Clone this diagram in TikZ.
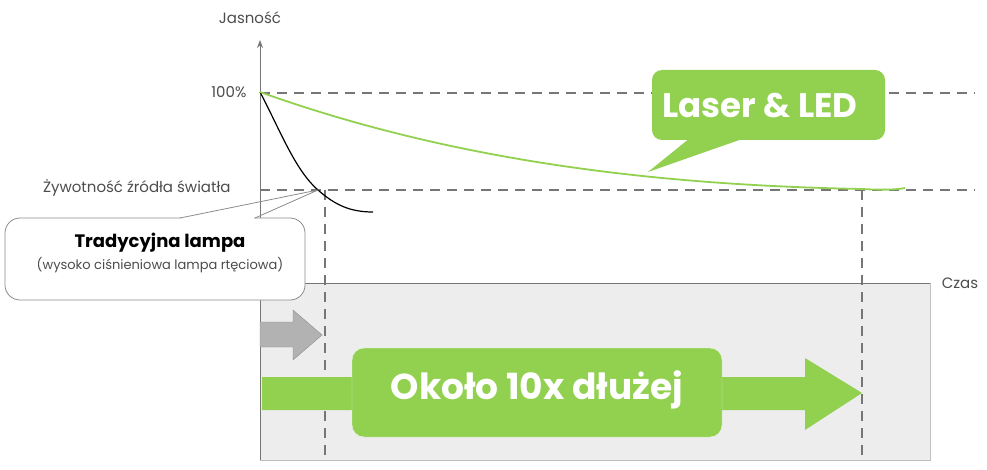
\documentclass[tikz,border=0pt]{standalone}
\usepackage{fontspec}
\setmainfont{Poppins}
\usetikzlibrary{arrows.meta}
\definecolor{grn}{HTML}{92D050}
\definecolor{dgr}{HTML}{767676}
\begin{document}
\begin{tikzpicture}[x=1pt,y=-1pt,
  dashline/.style={dgr,line width=2.6pt,dash pattern=on 10pt off 7pt},
  lbl/.style={font=\fontsize{15}{17}\selectfont,text=black!70}]
\useasboundingbox (0,0) rectangle (987,470);
\fill[black!7,draw=black!25] (260,283) rectangle (930,460);
\draw[dgr,line width=1pt] (258,283) -- (930,283);
\draw[dgr,line width=1pt,-{Stealth[length=8pt]}] (260,460) -- (260,40);
\draw[dashline] (260,93) -- (975,93);
\draw[dashline] (260,190) -- (975,190);
\draw[dashline] (325,190) -- (325,460);
\draw[dashline] (862,190) -- (862,460);
\node[lbl,anchor=east] (p100) at (250,92) {100\%};
\node[lbl] (jas) at (250,18) {Jasność};
\node[lbl,anchor=east] (zyw) at (234,188) {Żywotność źródła światła};
\node[lbl] (czas) at (960,283) {Czas};
\draw[black,line width=1.2pt] (260,92) .. controls (280,130) and (295,170) .. (318,190) .. controls (335,205) and (350,212) .. (373,212);
\draw[grn,line width=1.8pt] (260,92) .. controls (450,160) and (650,185) .. (862,189) .. controls (880,190) and (895,190) .. (905,188);
% Laser callout
\fill[grn,rounded corners=10pt] (652,70) rectangle (885,140);
\fill[grn] (690,138) -- (648,172) -- (745,138) -- cycle;
\node[text=white,font=\bfseries\fontsize{34}{38}\selectfont] (laser) at (760,106) {Laser \& LED};
% lamp callout
\draw[black!45,fill=white,line width=0.8pt,rounded corners=15pt] (180,218) -- (305,218) -- (305,300) -- (5,300) -- (5,218) -- cycle;
\fill[white] (181,217) rectangle (254,219.5);
\draw[black!45,line width=0.8pt] (180,218) -- (318,190) -- (255,218);
\node[font=\bfseries\fontsize{18}{20}\selectfont] (trad) at (160,243) {Tradycyjna lampa};
\node[font=\fontsize{13}{15}\selectfont,text=black!70] (wys) at (160,265) {(wysoko ciśnieniowa lampa rtęciowa)};
% gray arrow
\fill[black!30,draw=black!45] (260,322) -- (293,322) -- (293,310) -- (322,335) -- (293,360) -- (293,347) -- (260,347) -- cycle;
% green arrow
\fill[grn] (262,377) -- (805,377) -- (805,358) -- (862,393) -- (805,430) -- (805,410) -- (262,410) -- cycle;
\fill[grn,rounded corners=12pt,draw=white!80!grn] (352,348) rectangle (722,437);
\node[text=white,font=\bfseries\fontsize{36}{40}\selectfont] (okolo) at (537,390) {Około 10x dłużej};
\end{tikzpicture}
\end{document}
